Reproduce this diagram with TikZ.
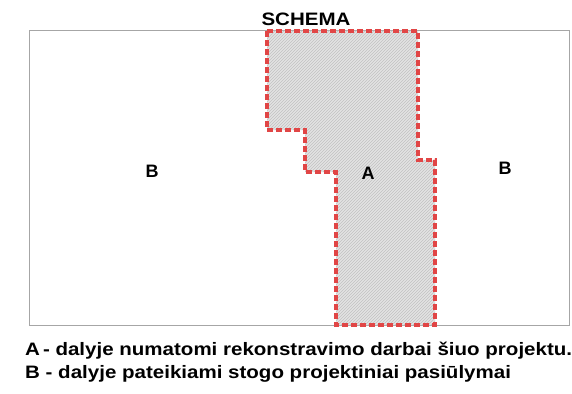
\documentclass[tikz,border=0pt]{standalone}
\usepackage{fontspec}
\setmainfont{Liberation Sans}
\newfontfamily\wideFont[FakeStretch=1.14]{Liberation Sans}
\usetikzlibrary{positioning, patterns}
\definecolor{zoneRed}{RGB}{225,70,70}
\tikzstyle{Frame} = [draw=black!35, line width=1pt]
\tikzstyle{Zone} = [
preaction={fill=black!11},
pattern=north east lines, pattern color=black!24,
draw=zoneRed, line width=3.6pt, dash pattern=on 6pt off 3pt]
\tikzstyle{Label} = [font=\fontsize{18}{21}\selectfont\bfseries, inner sep=0pt]
\tikzstyle{Text} = [font=\wideFont\fontsize{18}{21}\selectfont\bfseries, inner sep=0pt]

\begin{document}
\begin{tikzpicture}[x=1pt, y=-1pt]
    \useasboundingbox (0,0) rectangle (572,393);
    \draw[Frame] (29,31) rectangle (569,325);
    \draw[Zone] (267,31) -- (418,31) -- (418,160) -- (435,160) -- (435,325)
        -- (336,325) -- (336,172) -- (305,172) -- (305,130) -- (267,130) -- cycle;
    \node (schema) [Text] at (306,19) {SCHEMA};
    \node (b1) [Label] at (152,171) {B};
    \node (a) [Label] at (368,173) {A};
    \node (b2) [Label] at (505,168) {B};
    \node (legA) [Text, anchor=west] at (25,351) {A\,- dalyje numatomi rekonstravimo darbai šiuo projektu.};
    \node (legB) [Text, anchor=west] at (25,374) {B - dalyje pateikiami stogo projektiniai pasiūlymai};
\end{tikzpicture}
\end{document}
